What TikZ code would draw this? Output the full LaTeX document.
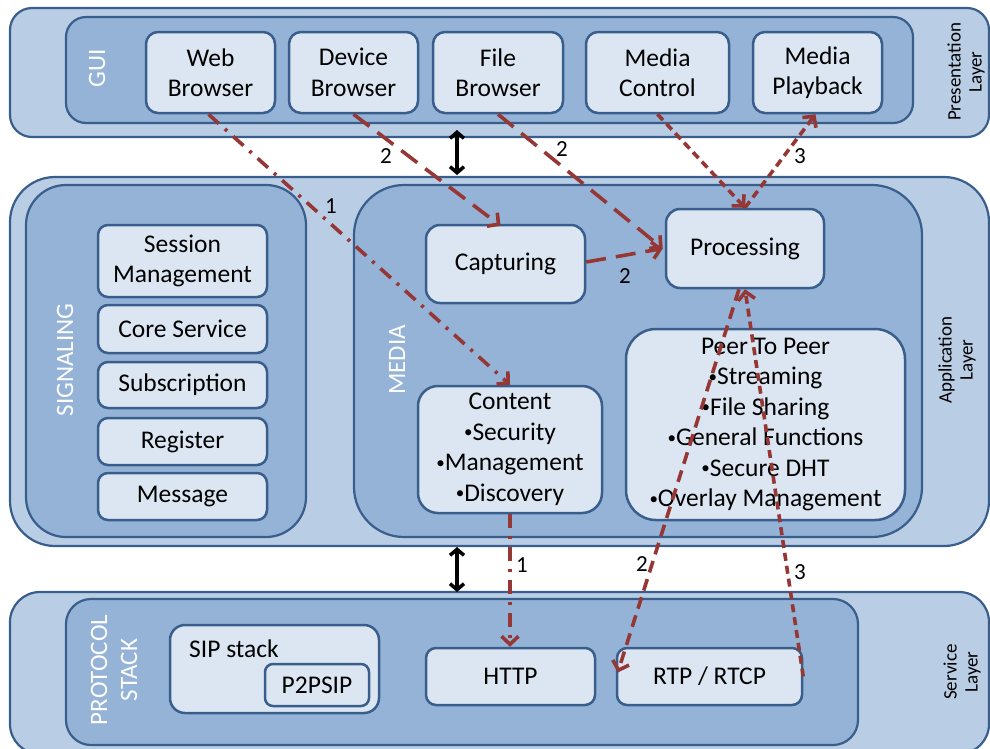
\documentclass[tikz,border=0pt]{standalone}
\usepackage{fontspec}
\setmainfont{Carlito}
\usetikzlibrary{arrows.meta,calc}
\definecolor{layerfill}{HTML}{B9CDE5}
\definecolor{panelfill}{HTML}{95B3D7}
\definecolor{boxfill}{HTML}{DCE6F2}
\definecolor{edgeblue}{HTML}{395E8C}
\definecolor{flow}{HTML}{953735}
% small raised bullet for list items
\newcommand{\bul}{\raisebox{2.5pt}{\fontsize{17}{17}\selectfont •}}
\begin{document}
\begin{tikzpicture}[x=1pt,y=-1pt,
  layer/.style={draw=edgeblue, fill=layerfill, line width=2.2pt, rounded corners=#1, inner sep=0pt},
  panel/.style={draw=edgeblue, fill=panelfill, line width=2.2pt, rounded corners=#1, inner sep=0pt},
  unit/.style={draw=edgeblue, fill=boxfill, line width=2.5pt, rounded corners=#1, inner sep=0pt,
    align=center, font=\fontsize{25.5}{30.5}\selectfont},
  tag/.style={text=white, rotate=90, align=center, font=\fontsize{25}{30}\selectfont},
  layername/.style={rotate=90, align=center, font=\fontsize{19}{21}\selectfont},
  num/.style={font=\fontsize{23}{24}\selectfont, inner sep=0pt},
  flowline/.style={draw=flow, line width=3.6pt, -{Straight Barb[length=8pt,width=17pt]}},
  longdash/.style={dash pattern=on 20pt off 10pt},
  dashdot/.style={dash pattern=on 14pt off 8pt on 3pt off 8pt},
  middash/.style={dash pattern=on 12pt off 7pt},
  shortdash/.style={dash pattern=on 8pt off 5pt},
  linkarrow/.style={line width=3.5pt, {Straight Barb[length=6pt,width=14pt]}-{Straight Barb[length=6pt,width=14pt]}}
]
\useasboundingbox (0,0) rectangle (990,748);

% ---------- Presentation layer ----------
\node[layer=22pt, minimum width=979pt, minimum height=129pt] (pres) at (499.5,72.5) {};
\node[panel=20pt, minimum width=847pt, minimum height=106pt] (gui) at (489.5,70) {};
\node[tag] (guilabel) at (97,68) {GUI};
\node[unit=12pt, minimum width=129pt, minimum height=81pt] (web) at (210.5,72.5) {Web\\Browser};
\node[unit=12pt, minimum width=129pt, minimum height=81pt] (device) at (353.5,72.5) {Device\\Browser};
\node[unit=12pt, minimum width=130pt, minimum height=81pt] (file) at (498,72.5) {File\\Browser};
\node[unit=12pt, minimum width=143pt, minimum height=81pt] (mctrl) at (657.5,72.5) {Media\\Control};
\node[unit=12pt, minimum width=129pt, minimum height=81pt] (mplay) at (817.5,72.5) {Media\\Playback};
\node[layername] (preslabel) at (966,72) {Presentation\\Layer};

% ---------- Application layer ----------
\node[layer=45pt, minimum width=979pt, minimum height=369pt] (app) at (499.5,361.5) {};
\node[panel=40pt, minimum width=280pt, minimum height=352pt] (sig) at (166,361) {};
\node[panel=50pt, minimum width=568pt, minimum height=352pt] (media) at (638,361) {};
\node[tag] (siglabel) at (65,360) {SIGNALING};
\node[tag] (medialabel) at (397,360) {MEDIA};
\node[layername] (applabel) at (957,360) {Application\\Layer};

\node[unit=10pt, minimum width=169pt, minimum height=72pt] (session) at (182.5,261) {Session\\Management};
\node[unit=10pt, minimum width=169pt, minimum height=48pt] (core) at (182.5,329) {Core Service};
\node[unit=10pt, minimum width=169pt, minimum height=46pt] (subs) at (182.5,385) {Subscription};
\node[unit=10pt, minimum width=169pt, minimum height=47pt] (reg) at (182.5,441.5) {Register};
\node[unit=10pt, minimum width=169pt, minimum height=47pt] (msg) at (182.5,496.5) {Message};

\node[unit=14pt, minimum width=159pt, minimum height=78pt] (capt) at (505.5,264) {Capturing};
\node[unit=14pt, minimum width=158pt, minimum height=79pt] (proc) at (745,248.5) {Processing};
\node[unit=20pt, minimum width=184pt, minimum height=127pt] (content) at (510,449.5)
  {Content\\\bul Security\\\bul Management\\\bul Discovery};
\node[unit=30pt, minimum width=279pt, minimum height=191pt] (peer) at (765.5,424.5)
  {Peer To Peer\\\bul Streaming\\\bul File Sharing\\\bul General Functions\\\bul Secure DHT\\\bul Overlay Management};

% ---------- Service layer ----------
\node[layer=30pt, minimum width=979pt, minimum height=162pt] (serv) at (499.5,673) {};
\node[panel=25pt, minimum width=792pt, minimum height=146pt] (proto) at (462,672) {};
\node[tag] (protolabel) at (114,670) {PROTOCOL\\STACK};
\node[layername] (servlabel) at (962,672) {Service\\Layer};

\node[unit=15pt, minimum width=209pt, minimum height=88pt] (sip) at (274.5,669) {};
\node[anchor=base west, inner sep=0pt, font=\fontsize{25.5}{30}\selectfont] (siptext) at (189,657) {SIP stack};
\node[unit=8pt, minimum width=104pt, minimum height=42pt] (p2p) at (317,685) {P2PSIP};
\node[unit=10pt, minimum width=169pt, minimum height=57pt] (http) at (510.5,676.5) {HTTP};
\node[unit=10pt, minimum width=185pt, minimum height=57pt] (rtp) at (709.5,676.5) {RTP / RTCP};

% ---------- layer links ----------
\coordinate (linkA1) at (457,130);
\coordinate (linkA2) at (457,175);
\coordinate (linkB1) at (457,547);
\coordinate (linkB2) at (457,592);
\draw[linkarrow] (linkA1) -- (linkA2);
\draw[linkarrow] (linkB1) -- (linkB2);

% ---------- flow 1: web content ----------
\draw[flowline, dashdot] ([xshift=-2pt]web.south) -- (content.north);
\draw[flowline, dashdot] (content.south) -- ([xshift=-0.5pt]http.north);
\node[num] (n1a) at (331,206) {1};
\node[num] (n1b) at (522,565) {1};

% ---------- flow 2: capture / stream ----------
\draw[flowline, longdash] (device.south) -- ([xshift=-5pt,yshift=-2pt]capt.north);
\draw[flowline, longdash] (file.south) -- ([xshift=-2pt]proc.west);
\draw[flowline, longdash] ([yshift=2pt]capt.east) -- ([xshift=-2pt]proc.west);
\draw[flowline, middash] ([xshift=-6pt]proc.south) -- ([xshift=2pt,yshift=4pt]rtp.west);
\node[num] (n2a) at (386,156) {2};
\node[num] (n2b) at (562,149) {2};
\node[num] (n2c) at (625,276) {2};
\node[num] (n2d) at (642,564) {2};

% ---------- flow 3: playback ----------
\draw[flowline, shortdash] (rtp.east) -- (proc.south);
\draw[flowline, shortdash] (mctrl.south) -- (proc.north);
\draw[flowline, shortdash] (proc.north) -- ([xshift=-2pt]mplay.south);
\node[num] (n3a) at (800,156) {3};
\node[num] (n3b) at (800,572) {3};
\end{tikzpicture}
\end{document}
